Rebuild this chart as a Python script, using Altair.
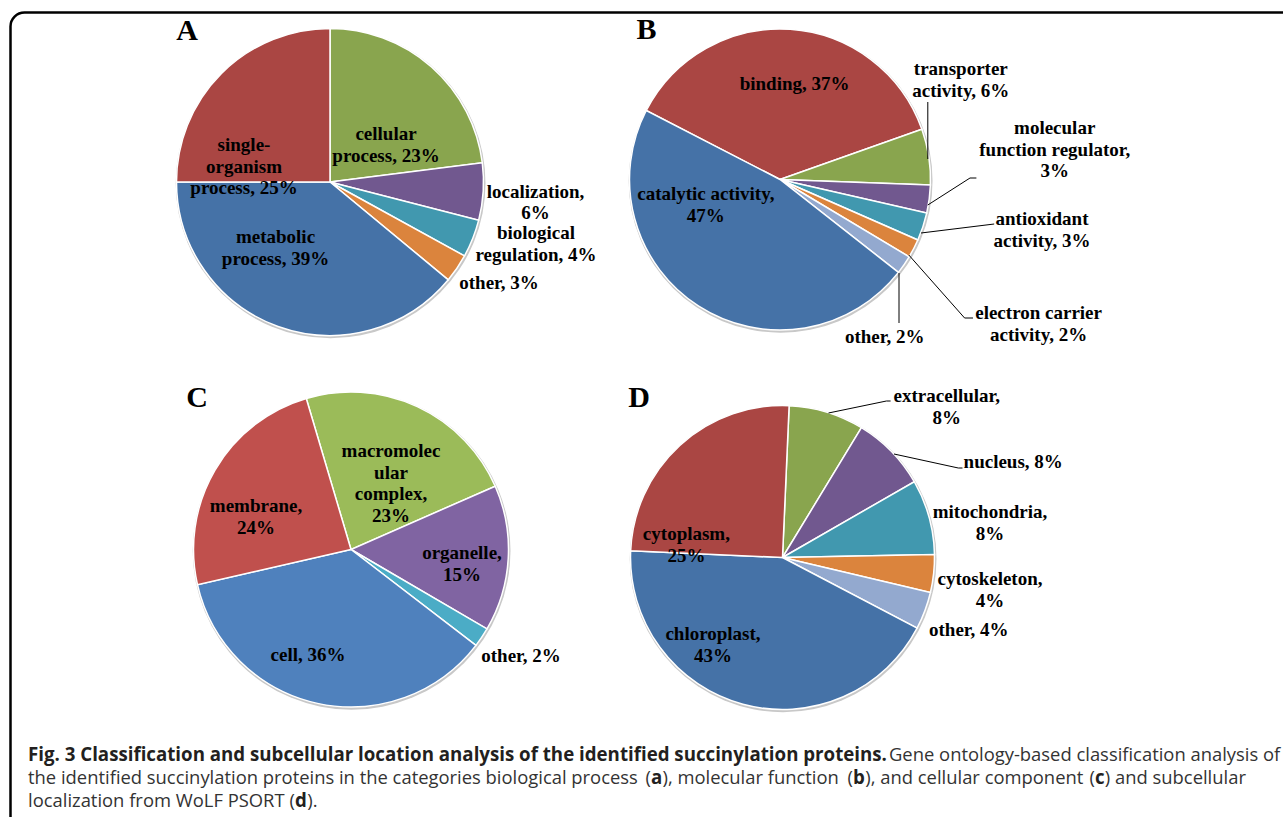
import math
import altair as alt
import pandas as pd

# ---------------- data ----------------
A_categories = ["cellular process", "localization", "biological regulation", "other",
                "metabolic process", "single-organism process"]
A_values = [23, 6, 4, 3, 39, 25]

B_categories = ["binding", "transporter activity", "molecular function regulator",
                "antioxidant activity", "electron carrier activity", "other", "catalytic activity"]
B_values = [37, 6, 3, 3, 2, 2, 47]

C_categories = ["macromolecular complex", "organelle", "other", "cell", "membrane"]
C_values = [23, 15, 2, 36, 24]

D_categories = ["extracellular", "nucleus", "mitochondria", "cytoskeleton", "other",
                "chloroplast", "cytoplasm"]
D_values = [8, 8, 8, 4, 4, 43, 25]

panel_letters = ["A", "B", "C", "D"]

caption_bold = "Fig. 3 Classification and subcellular location analysis of the identified succinylation proteins."
caption_line1 = "Gene ontology-based classification analysis of"
# (text, is_bold) segments
caption_line2 = [("the identified succinylation proteins in the categories biological process", False),
                 ("(", False), ("a", True), ("), molecular function", False),
                 ("(", False), ("b", True), ("), and cellular component", False),
                 ("(", False), ("c", True), (") and subcellular", False)]
caption_line3 = [("localization from WoLF PSORT", False), ("(", False), ("d", True), (").", False)]

# ---------------- styles / layout ----------------
XL_BLUE, XL_RED, XL_GREEN, XL_PURPLE = "#4572A7", "#AA4643", "#89A54E", "#71588F"
XL_TEAL, XL_ORANGE, XL_LIGHT = "#4198AF", "#DB843D", "#93A9CF"
A_colors = [XL_GREEN, XL_PURPLE, XL_TEAL, XL_ORANGE, XL_BLUE, XL_RED]
B_colors = [XL_RED, XL_GREEN, XL_PURPLE, XL_TEAL, XL_ORANGE, XL_LIGHT, XL_BLUE]
C_colors = ["#9BBB59", "#8064A2", "#4BACC6", "#4F81BD", "#C0504D"]
D_colors = [XL_GREEN, XL_PURPLE, XL_TEAL, XL_ORANGE, XL_LIGHT, XL_BLUE, XL_RED]

# pie geometry: centre x, centre y, radius, start angle (degrees)
PIES = {
    "A": dict(cx=330, cy=182, r=153.5, start=0.0),
    "B": dict(cx=780, cy=179.5, r=150.5, start=-62.7),
    "C": dict(cx=351, cy=549.5, r=157.5, start=-16.5),
    "D": dict(cx=782.5, cy=557.5, r=152, start=2.5),
}
LETTER_POS = {"A": (187, 39.5), "B": (646.5, 38.5), "C": (197, 407), "D": (639, 407)}

LH = 21.7  # label line height
LABEL_LAYOUT = {
    "A": {
        "cellular process": (["cellular", "process, {v}%"], 386, 134),
        "localization": (["localization,", "{v}%"], 535.5, 191.5),
        "biological regulation": (["biological", "regulation, {v}%"], 536, 233),
        "other": (["other, {v}%"], 499, 283),
        "metabolic process": (["metabolic", "process, {v}%"], 275.5, 237),
        "single-organism process": (["single-", "organism", "process, {v}%"], 244, 145),
    },
    "B": {
        "binding": (["binding, {v}%"], 794.6, 84),
        "transporter activity": (["transporter", "activity, {v}%"], 960.8, 69),
        "molecular function regulator": (["molecular", "function regulator,", "{v}%"], 1054.7, 128),
        "antioxidant activity": (["antioxidant", "activity, {v}%"], 1042, 219),
        "electron carrier activity": (["electron carrier", "activity, {v}%"], 1038.6, 313),
        "other": (["other, {v}%"], 884.7, 337),
        "catalytic activity": (["catalytic activity,", "{v}%"], 705.8, 194),
    },
    "C": {
        "macromolecular complex": (["macromolec", "ular", "complex,", "{v}%"], 391, 451),
        "organelle": (["organelle,", "{v}%"], 462, 553),
        "other": (["other, {v}%"], 521, 656),
        "cell": (["cell, {v}%"], 308, 655),
        "membrane": (["membrane,", "{v}%"], 256, 506),
    },
    "D": {
        "extracellular": (["extracellular,", "{v}%"], 946.8, 396),
        "nucleus": (["nucleus, {v}%"], 1013.2, 462),
        "mitochondria": (["mitochondria,", "{v}%"], 990, 512),
        "cytoskeleton": (["cytoskeleton,", "{v}%"], 990, 579),
        "other": (["other, {v}%"], 968.8, 630),
        "chloroplast": (["chloroplast,", "{v}%"], 713, 634),
        "cytoplasm": (["cytoplasm,", "{v}%"], 686.4, 534),
    },
}

# leader lines (annotation segments): x1, y1, x2, y2
LEADERS = [
    (927.8, 102, 927.8, 159),
    (927.8, 205, 970, 178), (970, 178, 976.4, 178),
    (921, 233, 994.2, 224),
    (908.8, 255, 964.6, 318), (964.6, 318, 973, 318),
    (899, 273, 899, 323),
    (828.5, 413, 886.4, 401), (886.4, 401, 890.6, 401),
    (894, 454, 958.3, 468), (958.3, 468, 962.5, 468),
]

CAP_FONT = "Open Sans"
CAP_SIZE_BOLD = 18.7
CAP_SIZE = 18.4
CAP_Y = [761, 784, 807]
CAP_L1_X = [28, 889]
# (x, align) per segment
CAP_L2_POS = [(28, "left"), (651, "right"), (651, "left"), (662.5, "left"),
              (853, "right"), (853, "left"), (865.3, "left"),
              (1095, "right"), (1095, "left"), (1104.8, "left")]
CAP_L3_POS = [(28, "left"), (295, "right"), (295, "left"), (307.3, "left")]

W, H = 1283, 817
LABEL_FONT = "Liberation Serif"

# ---------------- build ----------------
panels = {
    "A": (A_categories, A_values, A_colors),
    "B": (B_categories, B_values, B_colors),
    "C": (C_categories, C_values, C_colors),
    "D": (D_categories, D_values, D_colors),
}

one_row = pd.DataFrame({"k": [0]})
layers = []

# frame
frame = alt.Chart(one_row).mark_rect(
    fillOpacity=0, stroke="black", strokeWidth=2.5, cornerRadius=14
).encode(x=alt.value(10.5), x2=alt.value(W + 40), y=alt.value(12.5), y2=alt.value(H + 40))
layers.append(frame)

# soft shadows under the pies
for p in PIES.values():
    layers.append(
        alt.Chart(one_row).mark_arc(
            theta=0, theta2=2 * math.pi, radius=p["r"] + 1.4, color="#c8c8c8"
        ).encode(x=alt.value(p["cx"] + 0.6), y=alt.value(p["cy"] + 1.3))
    )

label_rows = []
for key, (cats, vals, cols) in panels.items():
    p = PIES[key]
    df = pd.DataFrame({"category": cats, "value": vals, "order": list(range(len(cats))), "color": cols})
    start = math.radians(p["start"])
    pie = alt.Chart(df).mark_arc(radius=p["r"], stroke="white", strokeWidth=1.5).encode(
        theta=alt.Theta("value:Q", stack=True, scale=alt.Scale(range=[start, start + 2 * math.pi])),
        order=alt.Order("order:Q"),
        color=alt.Color("color:N", scale=None),
        x=alt.value(p["cx"]),
        y=alt.value(p["cy"]),
    )
    layers.append(pie)
    for c, v in zip(cats, vals):
        lines, lx, ly = LABEL_LAYOUT[key][c]
        for i, ln in enumerate(lines):
            label_rows.append({"text": ln.format(v=v), "x": lx, "y": ly + i * LH})

labels = alt.Chart(pd.DataFrame(label_rows)).mark_text(
    font=LABEL_FONT, fontWeight="bold", fontSize=19, align="center", baseline="middle", color="black"
).encode(
    x=alt.X("x:Q", scale=None, axis=None),
    y=alt.Y("y:Q", scale=None, axis=None),
    text="text:N",
)
layers.append(labels)

lead_df = pd.DataFrame(LEADERS, columns=["x1", "y1", "x2", "y2"])
leaders = alt.Chart(lead_df).mark_rule(color="black", strokeWidth=1).encode(
    x=alt.X("x1:Q", scale=None, axis=None),
    y=alt.Y("y1:Q", scale=None, axis=None),
    x2="x2:Q",
    y2="y2:Q",
)
layers.append(leaders)

letter_df = pd.DataFrame({
    "text": panel_letters,
    "x": [LETTER_POS[k][0] for k in panel_letters],
    "y": [LETTER_POS[k][1] for k in panel_letters],
})
letters = alt.Chart(letter_df).mark_text(
    font=LABEL_FONT, fontWeight="bold", fontSize=30, align="center", baseline="alphabetic", color="black"
).encode(
    x=alt.X("x:Q", scale=None, axis=None),
    y=alt.Y("y:Q", scale=None, axis=None),
    text="text:N",
)
layers.append(letters)

# caption
cap_rows = [{"text": caption_bold, "x": CAP_L1_X[0], "y": CAP_Y[0], "bold": True, "align": "left"},
            {"text": caption_line1, "x": CAP_L1_X[1], "y": CAP_Y[0], "bold": False, "align": "left"}]
for (t, b), (x, al) in zip(caption_line2, CAP_L2_POS):
    cap_rows.append({"text": t, "x": x, "y": CAP_Y[1], "bold": b, "align": al})
for (t, b), (x, al) in zip(caption_line3, CAP_L3_POS):
    cap_rows.append({"text": t, "x": x, "y": CAP_Y[2], "bold": b, "align": al})
cap_df = pd.DataFrame(cap_rows)

for bold in (True, False):
    for al in ("left", "right"):
        sub = cap_df[(cap_df["bold"] == bold) & (cap_df["align"] == al)][["text", "x", "y"]]
        if sub.empty:
            continue
        layers.append(
            alt.Chart(sub).mark_text(
                font=CAP_FONT, fontSize=CAP_SIZE_BOLD if bold else CAP_SIZE,
                fontWeight="bold" if bold else "normal",
                align=al, baseline="alphabetic", color="#231f20" if bold else "#333333",
            ).encode(
                x=alt.X("x:Q", scale=None, axis=None),
                y=alt.Y("y:Q", scale=None, axis=None),
                text="text:N",
            )
        )

chart = alt.layer(*layers).resolve_scale(theta="independent").properties(
    width=W, height=H, padding=0, autosize=alt.AutoSizeParams(type="none")
).configure_view(stroke=None)

chart.save("out.html", embed_options={"renderer": "svg", "actions": False})
